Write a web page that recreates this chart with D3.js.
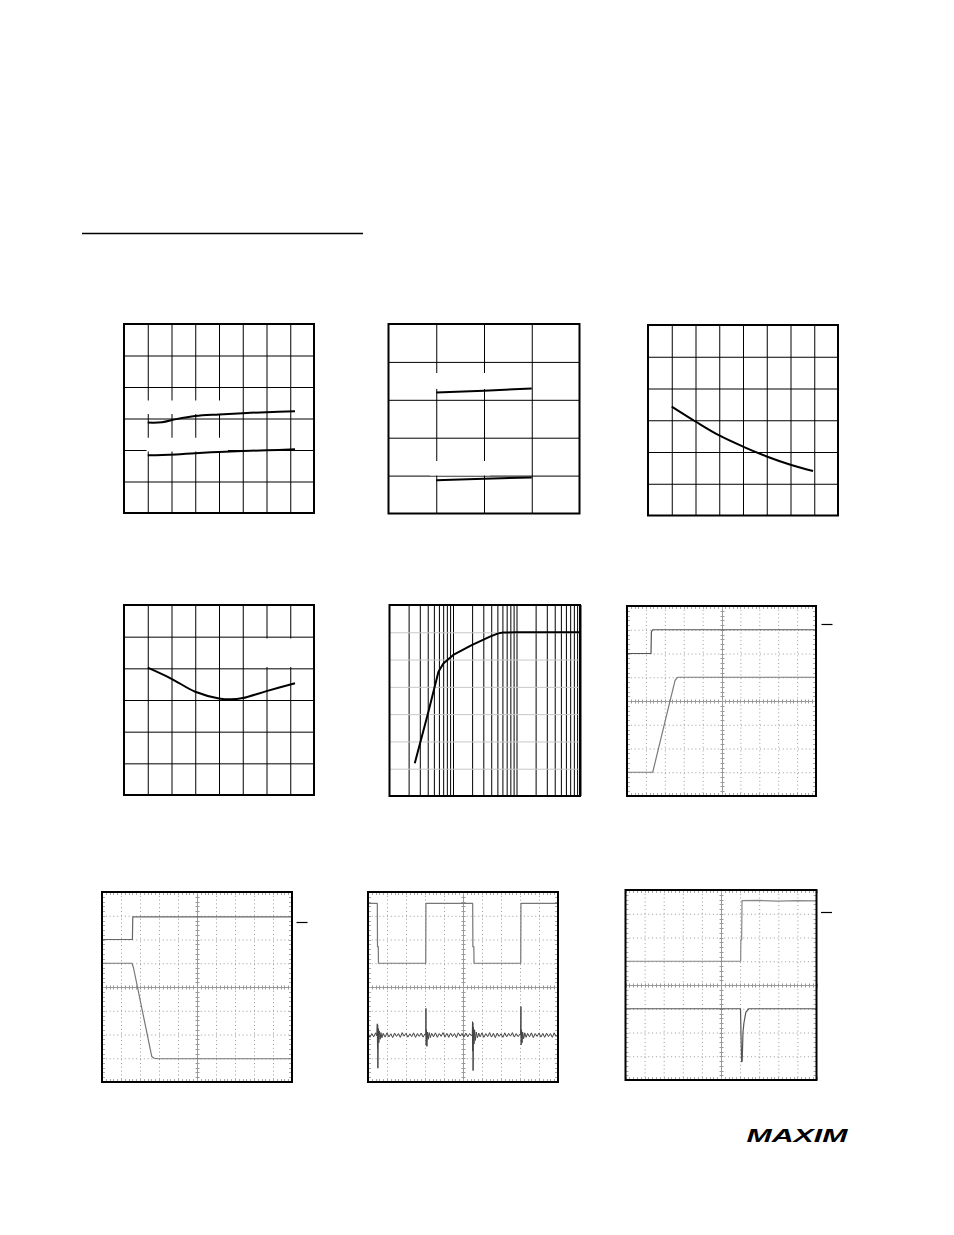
<!DOCTYPE html>
<html>
<head>
<meta charset="utf-8">
<script src="https://cdn.jsdelivr.net/npm/d3@7"></script>
<style>
  html, body { margin: 0; padding: 0; background: #fff; }
  svg { display: block; }
</style>
</head>
<body>
<svg id="page" width="954" height="1235"></svg>
<script>
// ---------------- DATA ----------------
// Chart 1 (grid 8 x 6)
const c1X = [1.0, 1.6, 2.2, 3.0, 4.0, 5.0, 6.0, 7.2];
const c1Top = [2.87, 2.88, 2.98, 3.08, 3.13, 3.17, 3.20, 3.23];
const c1Bottom = [1.83, 1.84, 1.86, 1.90, 1.94, 1.97, 1.99, 2.02];
// Chart 2 (grid 4 x 5)
const c2X = [1.0, 2.0, 3.0];
const c2Top = [3.19, 3.24, 3.30];
const c2Bottom = [0.88, 0.92, 0.95];
// Chart 3 (grid 8 x 6)
const c3X = [1.0, 2.0, 3.0, 4.0, 5.0, 6.0, 6.95];
const c3Y = [3.43, 2.96, 2.52, 2.17, 1.86, 1.60, 1.40];
// Chart 4 (grid 8 x 6)
const c4X = [1.0, 2.0, 3.0, 4.0, 4.5, 5.0, 6.0, 7.2];
const c4Y = [4.02, 3.67, 3.26, 3.05, 3.02, 3.06, 3.28, 3.53];
// Chart 5 (log x, 3 decades, 7 rows)
const c5X = [25, 41, 59, 70.5, 101, 197, 382, 515, 617, 1000, 3000, 10000];
const c5Y = [1.2, 3.09, 4.55, 4.86, 5.17, 5.53, 5.84, 5.96, 5.99, 6.0, 6.0, 6.0];
const c5Decades = [10, 100, 1000];
const c5Minor = [2, 3, 4, 5, 6, 7, 8, 9];
// Scope 6 (10 x 8 divisions)
const s6T1x = [0, 1.27, 1.29, 1.35, 10];
const s6T1y = [2.0, 2.0, 2.9, 3.0, 3.0];
const s6T2x = [0, 1.36, 2.54, 2.64, 2.71, 10];
const s6T2y = [-3.0, -3.0, 0.86, 0.97, 1.0, 1.0];
// Scope 7
const s7T1x = [0, 1.6, 1.62, 10];
const s7T1y = [2.0, 2.0, 2.95, 2.95];
const s7T2x = [0, 1.58, 1.66, 2.62, 2.75, 2.96, 10];
const s7T2y = [1.0, 1.0, 0.8, -2.93, -3.0, -3.02, -3.02];
// Scope 8
const s8T1x = [0, 0.49, 0.50, 0.54, 0.55, 3.04, 3.05, 5.51, 5.52, 5.57, 5.58, 8.04, 8.05, 10];
const s8T1y = [3.52, 3.52, 1.7, 1.7, 1.0, 1.0, 3.52, 3.52, 1.7, 1.7, 1.0, 1.0, 3.52, 3.52];
const s8T2x = [
  0, 0.1, 0.2, 0.3, 0.4, 0.46, 0.49, 0.5, 0.51, 0.52, 0.54, 0.57, 0.6, 0.64, 0.68, 0.73, 0.8, 0.9,
  1.0, 1.1, 1.2, 1.3, 1.4, 1.5, 1.6, 1.7, 1.8, 1.9, 2.0, 2.1, 2.2, 2.3, 2.4, 2.5, 2.6, 2.7, 2.8, 2.9, 3.0,
  3.04, 3.05, 3.06, 3.08, 3.1, 3.13, 3.17, 3.22, 3.28, 3.35, 3.45, 3.55, 3.65, 3.75, 3.85, 3.95, 4.05, 4.15,
  4.25, 4.35, 4.45, 4.55, 4.65, 4.75, 4.85, 4.95, 5.05, 5.15, 5.25, 5.35, 5.45,
  5.49, 5.5, 5.51, 5.52, 5.53, 5.55, 5.58, 5.61, 5.65, 5.7, 5.76, 5.83, 5.9, 6.0, 6.1, 6.2, 6.3, 6.4, 6.5,
  6.6, 6.7, 6.8, 6.9, 7.0, 7.1, 7.2, 7.3, 7.4, 7.5, 7.6, 7.7, 7.8, 7.9, 8.0,
  8.03, 8.05, 8.06, 8.08, 8.11, 8.14, 8.19, 8.25, 8.32, 8.4, 8.5, 8.6, 8.7, 8.8, 8.9, 9.0, 9.1, 9.2, 9.3,
  9.4, 9.5, 9.6, 9.7, 9.8, 9.9, 10.0];
const s8T2y = [
  -1.94, -2.12, -1.96, -2.1, -1.93, -2.05, -1.55, -2.6, -1.6, -3.42, -1.75, -2.35, -1.85, -2.2, -1.92, -2.14, -1.95, -2.11,
  -1.93, -2.1, -1.97, -2.13, -1.94, -2.08, -1.96, -2.12, -1.92, -2.07, -1.95, -2.11, -1.97, -2.09, -1.93, -2.12, -1.96, -2.08, -1.94, -2.11, -1.97,
  -2.0, -0.9, -2.45, -1.8, -2.5, -1.9, -2.2, -1.92, -2.13, -1.95, -2.1, -1.93, -2.12, -1.96, -2.08, -1.92, -2.11, -1.95,
  -2.12, -1.94, -2.09, -1.96, -2.13, -1.93, -2.07, -1.95, -2.11, -1.94, -2.1, -1.96, -2.06,
  -2.0, -1.46, -2.7, -1.5, -3.52, -1.7, -2.4, -1.8, -2.25, -1.9, -2.14, -1.94, -2.1, -1.93, -2.12, -1.96, -2.09, -1.92, -2.11,
  -1.95, -2.13, -1.94, -2.08, -1.97, -2.12, -1.93, -2.1, -1.95, -2.07, -1.92, -2.11, -1.96, -2.09, -1.98,
  -2.02, -0.83, -2.44, -1.8, -2.35, -1.9, -2.18, -1.93, -2.12, -1.95, -2.1, -1.93, -2.13, -1.96, -2.08, -1.94, -2.11, -1.95, -2.12,
  -1.94, -2.09, -1.96, -2.12, -1.93, -2.08, -1.98];
// Scope 9
const s9T1x = [0, 6.03, 6.04, 6.08, 6.10, 7.0, 8.0, 9.0, 10];
const s9T1y = [1.0, 1.0, 1.89, 1.9, 3.55, 3.56, 3.53, 3.55, 3.54];
const s9T2x = [0, 6.02, 6.05, 6.08, 6.11, 6.15, 6.2, 6.3, 6.45, 10];
const s9T2y = [-1.0, -1.0, -2.2, -3.23, -3.2, -2.0, -1.6, -1.15, -1.0, -1.0];

const logoText = "MAXIM";

// ---------------- LAYOUT ----------------
const svg = d3.select("#page");

// header rule
svg.append("line").attr("x1", 82).attr("x2", 363).attr("y1", 233.5).attr("y2", 233.5)
  .attr("stroke", "#000").attr("stroke-width", 1.5);

function gridChart(box, x, y, xt, yt, opts = {}) {
  const g = svg.append("g");
  const col = opts.gridColor || "#000";
  const vcol = opts.vColor || col;
  const hcol = opts.hColor || col;
  g.append("g").attr("transform", `translate(0,${box.y})`)
    .call(d3.axisBottom(x).tickValues(xt).tickSize(box.h).tickFormat(""))
    .call(a => { a.select(".domain").remove(); a.selectAll("line").attr("stroke", vcol).attr("stroke-width", opts.vw || 1); });
  g.append("g").attr("transform", `translate(${box.x},0)`)
    .call(d3.axisRight(y).tickValues(yt).tickSize(box.w).tickFormat(""))
    .call(a => { a.select(".domain").remove(); a.selectAll("line").attr("stroke", hcol).attr("stroke-width", opts.hw || 1); });
  (opts.knock || []).forEach(k => {
    g.append("rect").attr("x", k[0]).attr("y", k[1]).attr("width", k[2] - k[0]).attr("height", k[3] - k[1]).attr("fill", "#fff");
  });
  return g;
}
function frame(g, box, w) {
  g.append("rect").attr("x", box.x).attr("y", box.y).attr("width", box.w).attr("height", box.h)
    .attr("fill", "none").attr("stroke", "#000").attr("stroke-width", w || 2);
}
function curve(g, xs, ys, x, y, c, w, cf) {
  const line = d3.line().x(d => x(d[0])).y(d => y(d[1])).curve(cf || d3.curveLinear);
  g.append("path").datum(xs.map((v, i) => [v, ys[i]])).attr("d", line)
    .attr("fill", "none").attr("stroke", c).attr("stroke-width", w).attr("stroke-linejoin", "round");
}

// Chart 1
{
  const box = { x: 124, y: 324, w: 190, h: 189 };
  const x = d3.scaleLinear().domain([0, 8]).range([box.x, box.x + box.w]);
  const y = d3.scaleLinear().domain([0, 6]).range([box.y + box.h, box.y]);
  const g = gridChart(box, x, y, d3.range(1, 8), d3.range(1, 6),
    { knock: [[146, 400.5, 228, 414], [146.5, 437.7, 228, 451.5]] });
  curve(g, c1X, c1Top, x, y, "#000", 2, d3.curveCatmullRom);
  curve(g, c1X, c1Bottom, x, y, "#000", 2, d3.curveCatmullRom);
  frame(g, box, 2);
}
// Chart 2
{
  const box = { x: 388.5, y: 324, w: 191, h: 189.5 };
  const x = d3.scaleLinear().domain([0, 4]).range([box.x, box.x + box.w]);
  const y = d3.scaleLinear().domain([0, 5]).range([box.y + box.h, box.y]);
  const g = gridChart(box, x, y, d3.range(1, 4), d3.range(1, 5),
    { knock: [[430, 373, 490, 389], [430, 461, 490, 475.5]] });
  curve(g, c2X, c2Top, x, y, "#000", 2);
  curve(g, c2X, c2Bottom, x, y, "#000", 2);
  frame(g, box, 2);
}
// Chart 3
{
  const box = { x: 648, y: 325, w: 190, h: 190.5 };
  const x = d3.scaleLinear().domain([0, 8]).range([box.x, box.x + box.w]);
  const y = d3.scaleLinear().domain([0, 6]).range([box.y + box.h, box.y]);
  const g = gridChart(box, x, y, d3.range(1, 8), d3.range(1, 6));
  curve(g, c3X, c3Y, x, y, "#000", 2, d3.curveCatmullRom);
  frame(g, box, 2);
}
// Chart 4
{
  const box = { x: 124, y: 605, w: 190, h: 190 };
  const x = d3.scaleLinear().domain([0, 8]).range([box.x, box.x + box.w]);
  const y = d3.scaleLinear().domain([0, 6]).range([box.y + box.h, box.y]);
  const g = gridChart(box, x, y, d3.range(1, 8), d3.range(1, 6),
    { knock: [[262, 638.5, 296, 667]] });
  curve(g, c4X, c4Y, x, y, "#000", 2, d3.curveCatmullRom);
  frame(g, box, 2);
}
// Chart 5 (log)
{
  const box = { x: 389.5, y: 605, w: 190.5, h: 191 };
  const x = d3.scaleLog().domain([10, 10000]).range([box.x, box.x + box.w]);
  const y = d3.scaleLinear().domain([0, 7]).range([box.y + box.h, box.y]);
  const xt = [];
  c5Decades.forEach((d, i) => {
    if (i > 0) xt.push(d);
    c5Minor.forEach(m => xt.push(m * d));
  });
  const g = gridChart(box, x, y, xt, d3.range(1, 7), { vColor: "#000", hColor: "#c8c8c8" });
  curve(g, c5X, c5Y, x, y, "#000", 2);
  frame(g, box, 2);
  g.append("line").attr("x1", box.x + box.w + 0.5).attr("x2", box.x + box.w + 0.5)
    .attr("y1", box.y).attr("y2", box.y + box.h).attr("stroke", "#000").attr("stroke-width", 2);
}

// Scopes
function scope(box, traces, marker) {
  const g = svg.append("g");
  const x = d3.scaleLinear().domain([0, 10]).range([box.x, box.x + box.w]);
  const y = d3.scaleLinear().domain([-4, 4]).range([box.y + box.h, box.y]);
  const xt = d3.range(1, 10).filter(v => v !== 5);
  const yt = d3.range(-3, 4).filter(v => v !== 0);
  g.append("g").attr("transform", `translate(0,${box.y})`)
    .call(d3.axisBottom(x).tickValues(xt).tickSize(box.h).tickFormat(""))
    .call(a => { a.select(".domain").remove(); a.selectAll("line").attr("stroke", "#9a9a9a").attr("stroke-dasharray", "1,2.8"); });
  g.append("g").attr("transform", `translate(${box.x},0)`)
    .call(d3.axisRight(y).tickValues(yt).tickSize(box.w).tickFormat(""))
    .call(a => { a.select(".domain").remove(); a.selectAll("line").attr("stroke", "#9a9a9a").attr("stroke-dasharray", "1,2.8"); });
  // center lines
  const cx = Math.round(x(5)) + 0.5, cy = Math.round(y(0)) + 0.5;
  g.append("line").attr("x1", box.x).attr("x2", box.x + box.w).attr("y1", cy).attr("y2", cy).attr("stroke", "#9a9a9a");
  g.append("line").attr("x1", cx).attr("x2", cx).attr("y1", box.y).attr("y2", box.y + box.h).attr("stroke", "#9a9a9a");
  const minorX = d3.range(0, 10.01, 0.2);
  const minorY = d3.range(-4, 4.01, 0.2);
  g.selectAll(null).data(minorX).join("line")
    .attr("x1", d => Math.round(x(d)) + 0.5).attr("x2", d => Math.round(x(d)) + 0.5)
    .attr("y1", cy - 2).attr("y2", cy + 2).attr("stroke", "#9a9a9a");
  g.selectAll(null).data(minorY).join("line")
    .attr("y1", d => Math.round(y(d)) + 0.5).attr("y2", d => Math.round(y(d)) + 0.5)
    .attr("x1", cx - 2).attr("x2", cx + 2).attr("stroke", "#9a9a9a");
  // edge ticks
  g.selectAll(null).data(minorX).join("line")
    .attr("x1", d => Math.round(x(d)) + 0.5).attr("x2", d => Math.round(x(d)) + 0.5)
    .attr("y1", box.y).attr("y2", box.y + 3).attr("stroke", "#aaa");
  g.selectAll(null).data(minorX).join("line")
    .attr("x1", d => Math.round(x(d)) + 0.5).attr("x2", d => Math.round(x(d)) + 0.5)
    .attr("y1", box.y + box.h - 3).attr("y2", box.y + box.h).attr("stroke", "#aaa");
  g.selectAll(null).data(minorY).join("line")
    .attr("y1", d => Math.round(y(d)) + 0.5).attr("y2", d => Math.round(y(d)) + 0.5)
    .attr("x1", box.x).attr("x2", box.x + 3).attr("stroke", "#aaa");
  g.selectAll(null).data(minorY).join("line")
    .attr("y1", d => Math.round(y(d)) + 0.5).attr("y2", d => Math.round(y(d)) + 0.5)
    .attr("x1", box.x + box.w - 3).attr("x2", box.x + box.w).attr("stroke", "#aaa");
  traces.forEach(t => curve(g, t.x, t.y, x, y, t.color, t.w || 1.2));
  frame(g, box, 2);
  if (marker) {
    g.append("line").attr("x1", marker[0]).attr("x2", marker[1]).attr("y1", marker[2]).attr("y2", marker[2])
      .attr("stroke", "#000").attr("stroke-width", 1.2);
  }
}

scope({ x: 627, y: 606, w: 189, h: 190 },
  [{ x: s6T1x, y: s6T1y, color: "#555" }, { x: s6T2x, y: s6T2y, color: "#7a7a7a" }],
  [821.5, 832.5, 624.5]);
scope({ x: 102, y: 892, w: 190, h: 190 },
  [{ x: s7T1x, y: s7T1y, color: "#666" }, { x: s7T2x, y: s7T2y, color: "#777" }],
  [296.5, 307.5, 922.5]);
scope({ x: 368, y: 892, w: 190, h: 190 },
  [{ x: s8T1x, y: s8T1y, color: "#777" }, { x: s8T2x, y: s8T2y, color: "#444", w: 1 }],
  null);
scope({ x: 625.5, y: 890, w: 191, h: 190 },
  [{ x: s9T1x, y: s9T1y, color: "#888" }, { x: s9T2x, y: s9T2y, color: "#555" }],
  [821, 832, 912.5]);

// Logo
svg.append("text").attr("x", 746.5).attr("y", 1141.7)
  .attr("font-family", "Liberation Sans, Arial, sans-serif").attr("font-weight", "bold")
  .attr("font-style", "italic").attr("font-size", 18)
  .attr("textLength", 101).attr("lengthAdjust", "spacingAndGlyphs")
  .text(logoText);
</script>
</body>
</html>
